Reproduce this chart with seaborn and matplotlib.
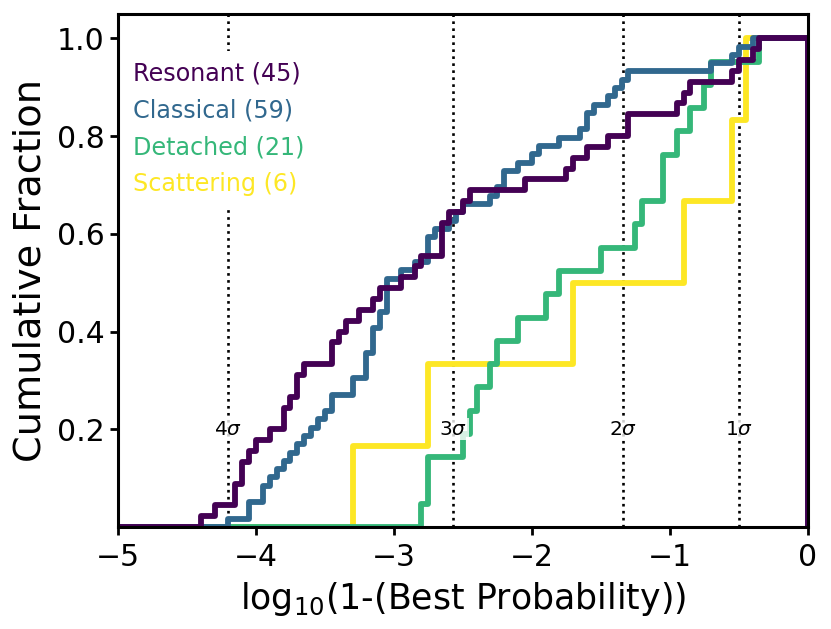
import numpy as np
import seaborn as sns
import matplotlib.pyplot as plt

# log10(1 - best probability) for each object
resonant = [-4.38, -4.28, -4.13, -4.12, -4.08, -4.07, -4.03, -3.98, -3.88,
            -3.78, -3.77, -3.73, -3.68, -3.67, -3.63, -3.43, -3.42, -3.38,
            -3.33, -3.23, -3.13, -3.08, -2.93, -2.83, -2.78, -2.63, -2.62,
            -2.61, -2.58, -2.48, -2.43, -2.03, -1.73, -1.68, -1.58, -1.43,
            -1.28, -1.27, -0.93, -0.88, -0.83, -0.53, -0.48, -0.38, -0.33]
classical = [-4.18, -4.03, -4.02, -3.93, -3.92, -3.88, -3.83, -3.78, -3.73,
             -3.68, -3.63, -3.58, -3.53, -3.48, -3.43, -3.42, -3.28, -3.27,
             -3.18, -3.17, -3.16, -3.13, -3.12, -3.11, -3.08, -3.07, -3.03,
             -3.02, -3.02, -3.01, -2.93, -2.83, -2.73, -2.72, -2.71, -2.68,
             -2.58, -2.53, -2.48, -2.28, -2.23, -2.18, -2.17, -2.08, -1.98,
             -1.93, -1.78, -1.63, -1.58, -1.57, -1.53, -1.43, -1.38, -1.33,
             -1.28, -0.68, -0.53, -0.48, -0.38]
detached = [-2.78, -2.73, -2.72, -2.48, -2.43, -2.38, -2.28, -2.23, -2.08,
            -1.88, -1.78, -1.48, -1.23, -1.18, -1.03, -1.02, -0.93, -0.83,
            -0.73, -0.68, -0.33]
scattering = [-3.28, -2.73, -1.68, -0.88, -0.53, -0.43]

groups = ["Resonant", "Classical", "Detached", "Scattering"]
values = [resonant, classical, detached, scattering]

sigma_x = [-4.20, -2.57, -1.34, -0.50]
sigma_labels = [r"4$\sigma$", r"3$\sigma$", r"2$\sigma$", r"1$\sigma$"]

bins = np.linspace(-5, 0, 101)
colors = plt.cm.viridis(np.linspace(0, 1, 4))

sns.set_style("ticks", {"text.color": "black", "axes.labelcolor": "black",
                        "xtick.color": "black", "ytick.color": "black",
                        "axes.edgecolor": "black"})
fig, ax = plt.subplots(figsize=(8.31, 6.29), dpi=100)
fig.subplots_adjust(left=0.142, right=0.972, top=0.978, bottom=0.162)

for sx, lab in zip(sigma_x, sigma_labels):
    ax.axvline(sx, color="black", linestyle=":", linewidth=1.9)
    ax.text(sx, 0.2, lab, ha="center", va="center", fontsize=14.5,
            bbox=dict(facecolor="white", edgecolor="none", alpha=0.8, pad=1))

# draw in reverse so Resonant ends up on top
handles = {}
for name, vals, col in reversed(list(zip(groups, values, colors))):
    sns.histplot(x=vals, bins=bins, cumulative=True, stat="proportion",
                 element="step", fill=False, color=col, linewidth=4.2, ax=ax)
    handles[name] = ax.lines[-1]
    # close the step outline at the last bin edge like plt.hist does
    ax.vlines(bins[-1], 0, 1, color=col, linewidth=4.2)

labels = [f"{g} ({len(v)})" for g, v in zip(groups, values)]
leg = ax.legend([handles[g] for g in groups], labels, loc="upper left",
                bbox_to_anchor=(-0.01, 0.95), handlelength=0, handletextpad=0,
                labelcolor="linecolor", fontsize=17.2, labelspacing=0.55,
                frameon=True, facecolor="white", edgecolor="none",
                framealpha=1)

ax.set_xlim(-5, 0)
ax.set_ylim(0, 1.05)
ax.set_xticks([-5, -4, -3, -2, -1, 0])
ax.set_yticks([0.2, 0.4, 0.6, 0.8, 1.0])
ax.set_xlabel(r"log$_{10}$(1-(Best Probability))", fontsize=25, labelpad=6)
ax.set_ylabel("Cumulative Fraction", fontsize=27.5, labelpad=6)
ax.tick_params(labelsize=21.5, width=2, length=6)
ax.tick_params(axis="x", pad=5.5)
for sp in ax.spines.values():
    sp.set_linewidth(2.2)

plt.savefig("out.png", dpi=100)
